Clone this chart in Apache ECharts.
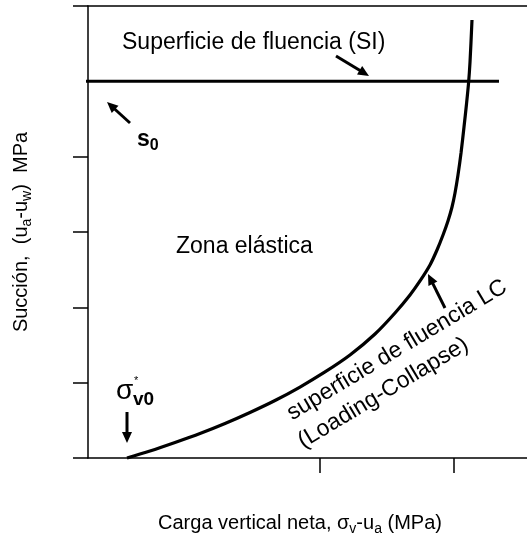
<!DOCTYPE html>
<html>
<head>
<meta charset="utf-8">
<script src="https://cdn.jsdelivr.net/npm/echarts@6/dist/echarts.min.js"></script>
<style>
html,body{margin:0;padding:0;background:#fff;}
#c{width:527px;height:537px;}
</style>
</head>
<body>
<div id="c"></div>
<script>
// LC yield curve (Loading-Collapse): net vertical load vs suction
const lcLoad = [8.88, 14.12, 19.82, 25.51, 31.21, 36.90, 42.60, 48.29, 53.99, 59.68, 65.38, 69.93, 73.35, 75.63, 77.90, 79.50, 80.87, 82.00, 82.92, 83.60, 84.28, 84.97, 85.65, 86.22, 86.67, 87.02, 87.47];
const lcSuction = [0, 0.093, 0.206, 0.325, 0.458, 0.604, 0.763, 0.942, 1.142, 1.367, 1.646, 1.925, 2.164, 2.350, 2.562, 2.761, 2.960, 3.146, 3.332, 3.518, 3.757, 4.049, 4.394, 4.699, 4.965, 5.257, 5.814];
// SI yield surface: horizontal line at suction s0
const siLoad = [-1.82, 93.62];
const siSuction = [5, 5];
// tick positions
const xTicks = [52.8, 83.4];
const yTicks = [0, 1, 2, 3, 4, 6];

const FONT = '"Liberation Sans", Arial, sans-serif';
const chart = echarts.init(document.getElementById('c'), null, {renderer: 'canvas'});

function arrow(x1, y1, x2, y2) {
  const dx = x2 - x1, dy = y2 - y1, L = Math.hypot(dx, dy);
  const ux = dx / L, uy = dy / L;
  const hl = 11, hw = 5;
  const bx = x2 - ux * hl, by = y2 - uy * hl;
  return [
    {type: 'line', shape: {x1: x1, y1: y1, x2: bx + ux, y2: by + uy}, style: {stroke: '#000', lineWidth: 3}},
    {type: 'polygon', shape: {points: [[x2, y2], [bx - uy * hw, by + ux * hw], [bx + uy * hw, by - ux * hw]]}, style: {fill: '#000'}}
  ];
}

const ang = 31 * Math.PI / 180;
const graphics = [].concat(
  [
    {type: 'text', x: 122, y: 43, style: {text: 'Superficie de fluencia (SI)', fontSize: 23, fontFamily: FONT, fill: '#000', align: 'left', verticalAlign: 'middle'}},
    {type: 'text', x: 176, y: 247, style: {text: 'Zona elástica', fontSize: 23, fontFamily: FONT, fill: '#000', align: 'left', verticalAlign: 'middle'}},
    {type: 'text', x: 137, y: 141, style: {text: '{s|s}{z|0}', fontFamily: FONT, fill: '#000', align: 'left', verticalAlign: 'middle',
      rich: {s: {fontSize: 23, fontWeight: 'bold', fontFamily: FONT, lineHeight: 26, verticalAlign: 'top'},
             z: {fontSize: 16, fontWeight: 'bold', fontFamily: FONT, lineHeight: 18, verticalAlign: 'bottom'}}}},
    {type: 'text', x: 116, y: 391, style: {text: 'σ', fontSize: 28, fontFamily: FONT, fill: '#000', align: 'left', verticalAlign: 'middle'}},
    {type: 'text', x: 134, y: 381, style: {text: '*', fontSize: 11, fontFamily: FONT, fill: '#000', align: 'left', verticalAlign: 'middle'}},
    {type: 'text', x: 133, y: 400, style: {text: 'v0', fontSize: 19, fontWeight: 'bold', fontFamily: FONT, fill: '#000', align: 'left', verticalAlign: 'middle'}},
    {type: 'text', x: 289, y: 415, rotation: ang, style: {text: 'superficie de fluencia LC', fontSize: 23, fontFamily: FONT, fill: '#000', align: 'left', verticalAlign: 'middle'}},
    {type: 'text', x: 300, y: 443, rotation: ang, style: {text: '(Loading-Collapse)', fontSize: 23, fontFamily: FONT, fill: '#000', align: 'left', verticalAlign: 'middle'}}
  ],
  arrow(336, 56, 369, 76),
  arrow(130, 123, 107, 102),
  arrow(127, 412, 127, 443),
  arrow(445, 308, 428, 274)
);

const option = {
  backgroundColor: '#fff',
  animation: false,
  grid: {left: 88, right: 0, top: 6, bottom: 79, containLabel: false, outerBoundsMode: 'none'},
  xAxis: [
    {
      type: 'value', min: 0, max: 100, position: 'bottom',
      name: 'Carga vertical neta, σ{sub|v}-u{sub|a} (MPa)',
      nameLocation: 'middle', nameGap: 52,
      nameTextStyle: {fontSize: 20, fontFamily: FONT, color: '#000', lineHeight: 26, padding: [0, 15, 0, 0],
        rich: {sub: {fontSize: 14, fontFamily: FONT, color: '#000', lineHeight: 16, verticalAlign: 'bottom'}}},
      axisLine: {show: true, onZero: false, lineStyle: {color: '#000', width: 1.5}},
      axisTick: {show: true, inside: false, length: 15, customValues: xTicks, lineStyle: {color: '#000', width: 1.5}},
      axisLabel: {show: false},
      splitLine: {show: false}
    },
    {
      type: 'value', min: 0, max: 100, position: 'top',
      axisLine: {show: true, onZero: false, lineStyle: {color: '#000', width: 1.5}},
      axisTick: {show: false}, axisLabel: {show: false}, splitLine: {show: false}
    }
  ],
  yAxis: {
    type: 'value', min: 0, max: 6, interval: 1,
    name: 'Succión,  (u{sub|a}-u{sub|w})  MPa',
    nameLocation: 'middle', nameGap: 54,
    nameTextStyle: {fontSize: 20, fontFamily: FONT, color: '#000', lineHeight: 26,
      rich: {sub: {fontSize: 14, fontFamily: FONT, color: '#000', lineHeight: 16, verticalAlign: 'bottom'}}},
    axisLine: {show: true, onZero: false, lineStyle: {color: '#000', width: 1.5}},
    axisTick: {show: true, inside: false, length: 15, customValues: yTicks, lineStyle: {color: '#000', width: 1.5}},
    axisLabel: {show: false},
    splitLine: {show: false}
  },
  series: [
    {
      name: 'SI', type: 'line', xAxisIndex: 0, clip: false, symbol: 'none',
      data: siLoad.map((v, i) => [v, siSuction[i]]),
      lineStyle: {color: '#000', width: 3}
    },
    {
      name: 'LC', type: 'line', xAxisIndex: 0, clip: false, symbol: 'none', smooth: 0.3,
      data: lcLoad.map((v, i) => [v, lcSuction[i]]),
      lineStyle: {color: '#000', width: 3.2}
    }
  ],
  graphic: {elements: graphics}
};
chart.setOption(option);
</script>
</body>
</html>
